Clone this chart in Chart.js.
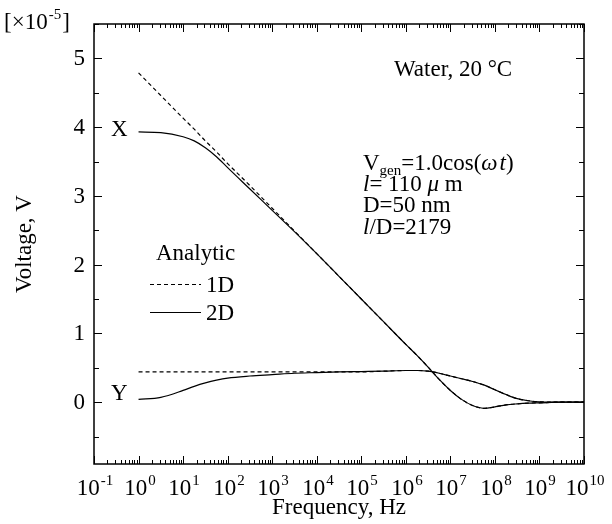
<!DOCTYPE html>
<html>
<head>
<meta charset="utf-8">
<script src="https://cdn.jsdelivr.net/npm/chart.js@4"></script>
<style>
  body { margin: 0; background: #fff; }
  canvas { display: block; }
</style>
</head>
<body>
<canvas id="chart" width="612" height="524"></canvas>
<script>
// frequency points (Hz)
const freqs = [1, 3.16, 10, 17.8, 31.6, 56.2, 100, 316, 1e3, 3.16e3, 1e4, 3.16e4, 1e5, 3.16e5,
  1e6, 1.78e6, 3.16e6, 5.62e6, 1e7, 1.78e7, 3.16e7, 5.62e7, 1e8, 1.78e8, 3.16e8, 5.62e8, 1e9, 3.16e9, 1e10];

// voltages in units of 1e-5 V
const x1D = [4.79, 4.46, 4.13, 3.97, 3.80, 3.64, 3.47, 3.15, 2.82, 2.49, 2.16, 1.83, 1.50, 1.17,
  0.84, 0.68, 0.51, 0.33, 0.17, 0.04, -0.05, -0.09, -0.07, -0.04, -0.025, -0.015, -0.01, 0, 0];
const x2D = [3.93, 3.92, 3.86, 3.80, 3.70, 3.57, 3.41, 3.10, 2.79, 2.48, 2.16, 1.83, 1.50, 1.17,
  0.84, 0.68, 0.51, 0.33, 0.17, 0.04, -0.05, -0.09, -0.07, -0.04, -0.025, -0.015, -0.01, 0, 0];
const y1D = [0.44, 0.44, 0.44, 0.44, 0.44, 0.44, 0.44, 0.44, 0.44, 0.44, 0.44, 0.44, 0.44, 0.45,
  0.46, 0.46, 0.45, 0.42, 0.38, 0.34, 0.30, 0.25, 0.18, 0.11, 0.05, 0.02, 0.005, 0, 0];
const y2D = [0.04, 0.07, 0.17, 0.23, 0.28, 0.32, 0.35, 0.38, 0.40, 0.42, 0.43, 0.44, 0.445, 0.45,
  0.46, 0.46, 0.45, 0.42, 0.38, 0.34, 0.30, 0.25, 0.18, 0.11, 0.05, 0.02, 0.005, 0, 0];

// axis ticks
const xTickExp = [-1, 0, 1, 2, 3, 4, 5, 6, 7, 8, 9, 10];
const yTicks = [0, 1, 2, 3, 4, 5];
const yMinorTicks = [-0.5, 0.5, 1.5, 2.5, 3.5, 4.5, 5.5];

const SERIF = "'Liberation Serif', 'Times New Roman', serif";
const F = '23px ' + SERIF;
const FI = 'italic 23px ' + SERIF;
const FS = '15px ' + SERIF;

function pts(ys) {
  return freqs.map((f, i) => ({ x: f, y: ys[i] }));
}

function lineSet(label, ys, dashed) {
  return {
    label: label,
    data: pts(ys),
    borderColor: '#000',
    borderWidth: 1.2,
    borderDash: dashed ? [4, 3] : [],
    pointRadius: 0,
    fill: false,
    cubicInterpolationMode: 'monotone'
  };
}

// "10" with a raised exponent, centered on x
function drawPow(ctx, base, sup, x, y) {
  ctx.font = F;
  const wb = ctx.measureText(base).width;
  ctx.font = FS;
  const ws = ctx.measureText(sup).width;
  const x0 = x - (wb + ws) / 2;
  ctx.textAlign = 'left';
  ctx.textBaseline = 'alphabetic';
  ctx.font = F;
  ctx.fillText(base, x0, y);
  ctx.font = FS;
  ctx.fillText(sup, x0 + wb + 1, y - 10);
}

// draws frame, inward ticks, labels and annotations
const decorPlugin = {
  id: 'decor',
  afterDraw(chart) {
    const ctx = chart.ctx;
    const a = chart.chartArea;
    const xs = chart.scales.x, ys = chart.scales.y;
    ctx.save();
    ctx.strokeStyle = '#000';
    ctx.fillStyle = '#000';

    // frame
    ctx.lineWidth = 1.5;
    ctx.strokeRect(a.left, a.top, a.right - a.left, a.bottom - a.top);

    // x ticks (top and bottom, pointing inward)
    ctx.lineWidth = 1;
    xTickExp.forEach(n => {
      const px = Math.round(xs.getPixelForValue(Math.pow(10, n))) + 0.5;
      ctx.beginPath();
      ctx.moveTo(px, a.bottom); ctx.lineTo(px, a.bottom - 8);
      ctx.moveTo(px, a.top); ctx.lineTo(px, a.top + 8);
      ctx.stroke();
      if (n < 10) {
        for (let k = 2; k <= 9; k++) {
          const mx = Math.round(xs.getPixelForValue(k * Math.pow(10, n))) + 0.5;
          ctx.beginPath();
          ctx.moveTo(mx, a.bottom); ctx.lineTo(mx, a.bottom - 4);
          ctx.moveTo(mx, a.top); ctx.lineTo(mx, a.top + 4);
          ctx.stroke();
        }
      }
      drawPow(ctx, '10', n < 0 ? '-' + (-n) : String(n), px, a.bottom + 31);
    });

    // y ticks (left and right)
    yTicks.forEach(v => {
      const py = Math.round(ys.getPixelForValue(v)) + 0.5;
      ctx.beginPath();
      ctx.moveTo(a.left, py); ctx.lineTo(a.left + 8, py);
      ctx.moveTo(a.right, py); ctx.lineTo(a.right - 8, py);
      ctx.stroke();
      ctx.font = F;
      ctx.textAlign = 'right';
      ctx.textBaseline = 'middle';
      ctx.fillText(String(v), a.left - 9, py);
    });
    yMinorTicks.forEach(v => {
      if (v > ys.max) return;
      const py = Math.round(ys.getPixelForValue(v)) + 0.5;
      ctx.beginPath();
      ctx.moveTo(a.left, py); ctx.lineTo(a.left + 5, py);
      ctx.moveTo(a.right, py); ctx.lineTo(a.right - 5, py);
      ctx.stroke();
    });

    // axis titles
    ctx.font = F;
    ctx.textAlign = 'center';
    ctx.textBaseline = 'middle';
    ctx.fillText('Frequency, Hz', (a.left + a.right) / 2, 508);
    ctx.save();
    ctx.translate(25, (a.top + a.bottom) / 2);
    ctx.rotate(-Math.PI / 2);
    ctx.fillText('Voltage, V', 0, 0);
    ctx.restore();

    // scale factor
    ctx.font = F;
    ctx.textAlign = 'left';
    ctx.textBaseline = 'alphabetic';
    ctx.fillText('[\u00d710', 4, 29);
    let w = ctx.measureText('[\u00d710').width;
    ctx.font = FS;
    ctx.fillText('-5', 4 + w + 1, 19);
    let w2 = ctx.measureText('-5').width;
    ctx.font = F;
    ctx.fillText(']', 4 + w + w2 + 2, 29);

    // curve labels
    ctx.fillText('X', 111, 136);
    ctx.fillText('Y', 111, 400);

    // conditions
    ctx.fillText('Water, 20 \u00b0C', 394, 76);
    let x = 363, y = 170;
    ctx.fillText('V', x, y);
    x += ctx.measureText('V').width;
    ctx.font = FS;
    ctx.fillText('gen', x, y + 5);
    x += ctx.measureText('gen').width;
    ctx.font = F;
    ctx.fillText('=1.0cos(', x, y);
    x += ctx.measureText('=1.0cos(').width;
    ctx.font = FI;
    ctx.fillText('\u03c9', x, y);
    x += ctx.measureText('\u03c9').width + 2;
    ctx.fillText('t', x, y);
    x += ctx.measureText('t').width;
    ctx.font = F;
    ctx.fillText(')', x, y);

    x = 363; y = 191;
    ctx.font = FI;
    ctx.fillText('l', x, y);
    x += ctx.measureText('l').width;
    ctx.font = F;
    ctx.fillText('= 110 ', x, y);
    x += ctx.measureText('= 110 ').width;
    ctx.font = FI;
    ctx.fillText('\u03bc', x, y);
    x += ctx.measureText('\u03bc').width;
    ctx.font = F;
    ctx.fillText(' m', x, y);

    ctx.fillText('D=50 nm', 363, 212);

    x = 363; y = 234;
    ctx.font = FI;
    ctx.fillText('l', x, y);
    x += ctx.measureText('l').width;
    ctx.font = F;
    ctx.fillText('/D=2179', x, y);

    // legend
    ctx.fillText('Analytic', 156, 260);
    ctx.lineWidth = 1.2;
    ctx.setLineDash([4, 3]);
    ctx.beginPath(); ctx.moveTo(150, 284.5); ctx.lineTo(201, 284.5); ctx.stroke();
    ctx.setLineDash([]);
    ctx.beginPath(); ctx.moveTo(150, 312.5); ctx.lineTo(201, 312.5); ctx.stroke();
    ctx.fillText('1D', 206, 292);
    ctx.fillText('2D', 206, 320);

    ctx.restore();
  }
};

new Chart(document.getElementById('chart'), {
  type: 'line',
  data: {
    datasets: [
      lineSet('X 1D', x1D, true),
      lineSet('Y 1D', y1D, true),
      lineSet('X 2D', x2D, false),
      lineSet('Y 2D', y2D, false)
    ]
  },
  options: {
    responsive: false,
    animation: false,
    devicePixelRatio: 1,
    layout: { padding: { left: 0, right: 28, top: 24, bottom: 0 } },
    plugins: { legend: { display: false }, tooltip: { enabled: false } },
    scales: {
      x: {
        type: 'logarithmic',
        min: 0.1,
        max: 1e10,
        grid: { display: false },
        border: { display: false },
        ticks: { display: false },
        afterFit: s => { s.height = 60; }
      },
      y: {
        type: 'linear',
        min: -0.9,
        max: 5.5,
        grid: { display: false },
        border: { display: false },
        ticks: { display: false },
        afterFit: s => { s.width = 94; }
      }
    }
  },
  plugins: [decorPlugin]
});
</script>
</body>
</html>
